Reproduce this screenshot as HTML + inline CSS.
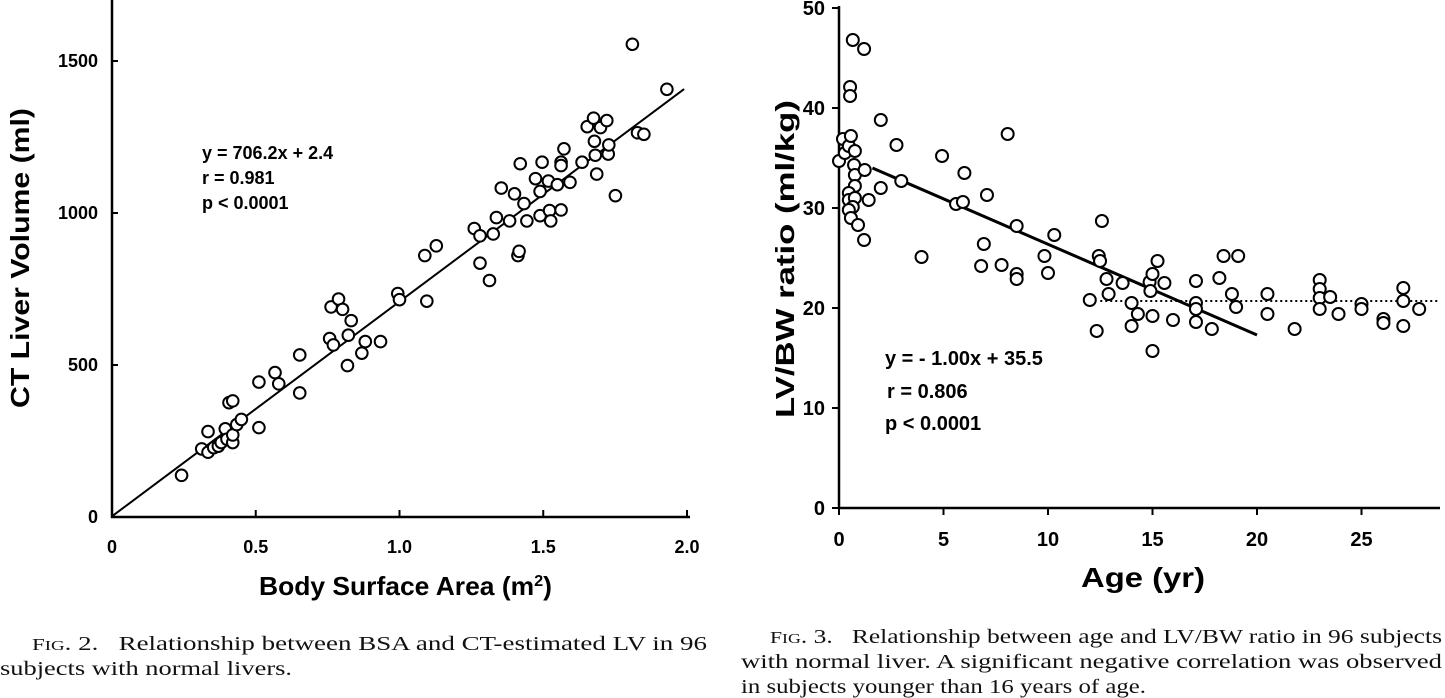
<!DOCTYPE html>
<html><head><meta charset="utf-8">
<style>
html,body{margin:0;padding:0;background:#fff;width:1445px;height:698px;overflow:hidden}
svg{display:block}
.t{font-family:"Liberation Sans",sans-serif;font-weight:bold;fill:#000}
.c{font-family:"Liberation Serif",serif;font-size:20px;fill:#111}
</style></head>
<body>
<svg id="fig" width="1445" height="698" viewBox="0 0 1445 698" xmlns="http://www.w3.org/2000/svg">
<g id="left"></g>
<g id="right"></g>
<text class="c" x="32" y="650" textLength="675" lengthAdjust="spacingAndGlyphs"><tspan font-size="17">F</tspan><tspan font-size="14">IG</tspan>. 2.&#160;&#160; Relationship between BSA and CT-estimated LV in 96</text>
<text class="c" x="0" y="675" textLength="292" lengthAdjust="spacingAndGlyphs">subjects with normal livers.</text>
<text class="c" x="770" y="643" textLength="672" lengthAdjust="spacingAndGlyphs"><tspan font-size="17">F</tspan><tspan font-size="14">IG</tspan>. 3.&#160;&#160; Relationship between age and LV/BW ratio in 96 subjects</text>
<text class="c" x="741" y="668" textLength="701" lengthAdjust="spacingAndGlyphs">with normal liver. A significant negative correlation was observed</text>
<text class="c" x="741" y="693" textLength="405" lengthAdjust="spacingAndGlyphs">in subjects younger than 16 years of age.</text>
</svg>
<script>
// ---- Left chart data ----
const bsaX = [0.242,0.312,0.334,0.334,0.354,0.37,0.38,0.394,0.40,0.42,0.42,0.407,0.42,0.434,0.45,0.511,0.511,0.567,0.58,0.653,0.653,0.757,0.77,0.762,0.788,0.802,0.832,0.822,0.819,0.881,0.869,0.934,0.994,1.0,1.095,1.088,1.128,1.26,1.28,1.28,1.313,1.326,1.337,1.354,1.383,1.4,1.433,1.412,1.416,1.42,1.443,1.473,1.489,1.496,1.489,1.518,1.522,1.526,1.549,1.562,1.562,1.562,1.572,1.593,1.635,1.653,1.675,1.678,1.681,1.686,1.699,1.721,1.726,1.728,1.751,1.81,1.828,1.85,1.93];
const lvY = [137,224,213,281,228,233,245,290,256,245,270,376,382,304,321,444,294,475,438,533,408,587,566,691,717,683,646,598,498,577,539,577,735,715,710,860,892,949,925,835,778,931,985,1082,974,1063,1031,860,874,1162,974,1113,1071,1167,991,1105,1008,974,1093,1167,1156,1010,1211,1101,1167,1284,1312,1236,1190,1128,1281,1304,1194,1224,1057,1555,1264,1259,1407];
const leftXTicks = [0,0.5,1.0,1.5,2.0];
const leftXTickLabels = ["0","0.5","1.0","1.5","2.0"];
const leftYTicks = [0,500,1000,1500];
const leftYTickLabels = ["0","500","1000","1500"];
const leftFit = [706.2, 2.4];
const leftFitRange = [0, 1.99];

// ---- Right chart data ----
const ageX = [0,0.19,0.28,0.47,0.57,0.76,0.72,0.76,0.76,0.47,0.47,0.76,0.66,0.47,0.57,0.91,1.2,1.23,1.42,2.0,0.66,1.2,0.53,0.53,2.0,2.75,2.98,3.95,4.93,5.6,5.93,6.0,7.08,6.93,6.8,7.78,8.07,8.5,8.5,8.5,9.83,10.0,10.3,12.58,12.43,12.49,12.8,12.9,12.0,12.33,13.57,14.0,14.3,14.0,14.86,15.0,15.24,15.57,14.9,15.0,15.0,15.98,17.08,17.08,17.08,17.08,17.84,18.2,18.4,19.1,18.8,19.0,20.5,20.5,21.8,23.0,23.0,23.0,23.0,23.5,23.9,25.0,25.0,26.05,26.05,27.0,27.0,27.0,27.76];
const ratioY = [34.7,36.9,35.5,36.2,37.2,35.7,34.3,33.3,32.2,31.5,30.8,31.0,30.1,29.8,29.0,28.3,26.8,33.8,30.8,32.0,46.8,45.9,42.1,41.2,38.8,36.3,32.7,25.1,35.2,30.4,30.6,33.5,31.3,26.4,24.2,24.3,37.4,28.2,23.4,22.9,25.2,23.5,27.3,28.7,25.2,24.7,22.9,21.4,20.8,17.7,22.5,20.5,19.4,18.2,22.6,23.4,24.7,22.5,21.7,19.2,15.7,18.8,22.7,20.5,19.9,18.6,17.9,23.0,25.2,25.2,21.4,20.1,21.4,19.4,17.9,22.8,21.9,21.0,19.9,21.1,19.4,20.4,19.9,18.9,18.5,22.0,20.7,18.2,19.9];
const rightXTicks = [0,5,10,15,20,25];
const rightXTickLabels = ["0","5","10","15","20","25"];
const rightYTicks = [0,10,20,30,40,50];
const rightYTickLabels = ["0","10","20","30","40","50"];
const rightFitX = [1.6, 20];
const rightFitY = [34.0, 17.3];
const plateauX = [12.5, 28.7];
const plateauY = [20.7, 20.7];

const NS = "http://www.w3.org/2000/svg";
function mk(tag, attrs, parent){const e=document.createElementNS(NS,tag);for(const k in attrs)e.setAttribute(k,attrs[k]);parent.appendChild(e);return e;}

const lx = v => 112 + v*287.5;
const ly = v => 517 - v*0.304;
const rx = v => 839 + v*20.9;
const ry = v => 508 - v*10;

// ---- draw left ----
const L = document.getElementById('left');
let e;
e = mk('line',{x1:112,y1:0,x2:112,y2:518,stroke:'#000','stroke-width':2.5},L);


e = mk('line',{x1:111,y1:517,x2:690,y2:517,stroke:'#000','stroke-width':2.5},L);


leftXTicks.forEach((v,i)=>{
  mk('line',{x1:lx(v),y1:517,x2:lx(v),y2:510,stroke:'#000','stroke-width':2},L);
  const t=mk('text',{x:lx(v),y:553,'text-anchor':'middle','font-size':18,class:'t'},L);
  t.textContent=leftXTickLabels[i];
  
  
});
leftYTicks.forEach((v,i)=>{
  mk('line',{x1:112,y1:ly(v),x2:118,y2:ly(v),stroke:'#000','stroke-width':2},L);
  const t=mk('text',{x:98,y:ly(v)+6,'text-anchor':'end','font-size':18,class:'t'},L);
  t.textContent=leftYTickLabels[i];
  
  
});
e = mk('line',{x1:lx(leftFitRange[0]),y1:ly(leftFit[0]*leftFitRange[0]+leftFit[1]),x2:lx(leftFitRange[1]),y2:ly(leftFit[0]*leftFitRange[1]+leftFit[1]),stroke:'#000','stroke-width':2},L);


bsaX.forEach((v,i)=>{
  const c=mk('circle',{cx:lx(v),cy:ly(lvY[i]),r:5.8,fill:'#fff',stroke:'#000','stroke-width':2},L);
  
  
});
[["y = 706.2x + 2.4",159],["r = 0.981",184],["p < 0.0001",209]].forEach(([s,y])=>{
  const t=mk('text',{x:202,y:y,'font-size':18,class:'t'},L);
  t.textContent=s;
  
  
});
e=mk('text',{x:259,y:595,'font-size':26,class:'t',textLength:293,lengthAdjust:'spacingAndGlyphs'},L);
e.innerHTML='Body Surface Area (m<tspan font-size="16" dy="-9">2</tspan><tspan dy="9">)</tspan>';


e=mk('text',{x:0,y:0,'text-anchor':'middle','font-size':26,class:'t',textLength:300,lengthAdjust:'spacingAndGlyphs',transform:'translate(29,258) rotate(-90)'},L);
e.textContent='CT Liver Volume (ml)';



// ---- draw right ----
const R = document.getElementById('right');
e = mk('line',{x1:839,y1:6,x2:839,y2:509,stroke:'#000','stroke-width':2.5},R);


e = mk('line',{x1:838,y1:508,x2:1440,y2:508,stroke:'#000','stroke-width':2.5},R);


rightXTicks.forEach((v,i)=>{
  mk('line',{x1:rx(v),y1:508,x2:rx(v),y2:515,stroke:'#000','stroke-width':2},R);
  const t=mk('text',{x:rx(v),y:546,'text-anchor':'middle','font-size':20,class:'t'},R);
  t.textContent=rightXTickLabels[i];
  
  
});
rightYTicks.forEach((v,i)=>{
  mk('line',{x1:832,y1:ry(v),x2:839,y2:ry(v),stroke:'#000','stroke-width':2},R);
  const t=mk('text',{x:825,y:ry(v)+7,'text-anchor':'end','font-size':20,class:'t'},R);
  t.textContent=rightYTickLabels[i];
  
  
});
e = mk('line',{x1:rx(plateauX[0]),y1:ry(plateauY[0]),x2:rx(plateauX[1]),y2:ry(plateauY[1]),stroke:'#000','stroke-width':2,'stroke-dasharray':'2,3'},R);


e = mk('line',{x1:rx(rightFitX[0]),y1:ry(rightFitY[0]),x2:rx(rightFitX[1]),y2:ry(rightFitY[1]),stroke:'#000','stroke-width':3},R);


ageX.forEach((v,i)=>{
  const c=mk('circle',{cx:rx(v),cy:ry(ratioY[i]),r:6,fill:'#fff',stroke:'#000','stroke-width':2},R);
  
  
});
[["y = - 1.00x + 35.5",365,885],["r = 0.806",398,887],["p < 0.0001",430,885]].forEach(([s,y,x])=>{
  const t=mk('text',{x:x,y:y,'font-size':20,class:'t'},R);
  t.textContent=s;
  
  
});
e=mk('text',{x:1081,y:587,'font-size':28,class:'t',textLength:124,lengthAdjust:'spacingAndGlyphs'},R);
e.setAttribute('xml:space','preserve');
e.textContent='Age   (yr)';


e=mk('text',{x:0,y:0,'text-anchor':'middle','font-size':26,class:'t',textLength:318,lengthAdjust:'spacingAndGlyphs',transform:'translate(794,259) rotate(-90)'},R);
e.setAttribute('xml:space','preserve');
e.textContent='LV/BW ratio  (ml/kg)';


</script>
</body></html>
